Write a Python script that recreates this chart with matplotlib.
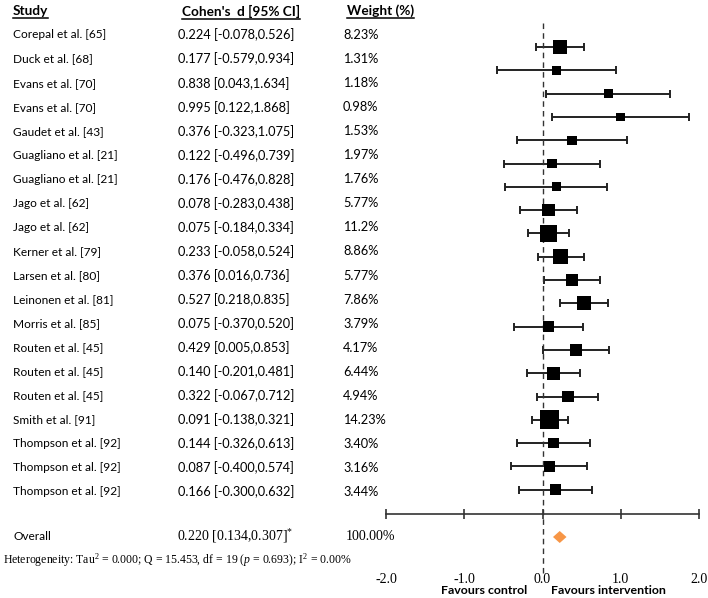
import numpy as np
import matplotlib
matplotlib.use("Agg")
import matplotlib.pyplot as plt
from matplotlib.transforms import blended_transform_factory

# dati
studi = ["Corepal et al. [65]", "Duck et al. [68]", "Evans et al. [70]", "Evans et al. [70]",
         "Gaudet et al. [43]", "Guagliano et al. [21]", "Guagliano et al. [21]", "Jago et al. [62]",
         "Jago et al. [62]", "Kerner et al. [79]", "Larsen et al. [80]", "Leinonen et al. [81]",
         "Morris et al. [85]", "Routen et al. [45]", "Routen et al. [45]", "Routen et al. [45]",
         "Smith et al. [91]", "Thompson et al. [92]", "Thompson et al. [92]", "Thompson et al. [92]"]
d = [0.224, 0.177, 0.838, 0.995, 0.376, 0.122, 0.176, 0.078, 0.075, 0.233,
     0.376, 0.527, 0.075, 0.429, 0.140, 0.322, 0.091, 0.144, 0.087, 0.166]
ci_low = [-0.078, -0.579, 0.043, 0.122, -0.323, -0.496, -0.476, -0.283, -0.184, -0.058,
          0.016, 0.218, -0.370, 0.005, -0.201, -0.067, -0.138, -0.326, -0.400, -0.300]
ci_high = [0.526, 0.934, 1.634, 1.868, 1.075, 0.739, 0.828, 0.438, 0.334, 0.524,
           0.736, 0.835, 0.520, 0.853, 0.481, 0.712, 0.321, 0.613, 0.574, 0.632]
pesi = ["8.23%", "1.31%", "1.18%", "0.98%", "1.53%", "1.97%", "1.76%", "5.77%", "11.2%", "8.86%",
        "5.77%", "7.86%", "3.79%", "4.17%", "6.44%", "4.94%", "14.23%", "3.40%", "3.16%", "3.44%"]
overall_d, overall_low, overall_high = 0.220, 0.134, 0.307
xticks = [-2.0, -1.0, 0.0, 1.0, 2.0]

plt.rcParams['mathtext.fontset'] = 'custom'
plt.rcParams['mathtext.rm'] = 'Liberation Serif'
plt.rcParams['mathtext.it'] = 'Liberation Serif:italic'

W, H = 708, 598
fig = plt.figure(figsize=(W / 100, H / 100), dpi=100)
ax = fig.add_axes([386 / W, 0, (699 - 386) / W, 1])

# asse y in pixel (0 in alto)
ax.set_ylim(H, 0)
ax.set_xlim(-2.0, 2.0)
n = len(studi)
riga_box = 47 + 23.3 * np.arange(n)
riga_testo = 35 + 24.05 * np.arange(n)
d = np.array(d)
lo = np.array(ci_low)
hi = np.array(ci_high)
w = np.array([float(p.strip('%')) for p in pesi])

ax.errorbar(d, riga_box, xerr=[d - lo, hi - d], fmt='none', ecolor='#222222',
            elinewidth=1.4, capsize=3, capthick=1.4, zorder=2)
lato_px = 8 + 0.774 * w
ax.scatter(d, riga_box, marker='s', s=(lato_px * 0.72) ** 2, color='black', zorder=3, linewidths=0)

y_overall = 536
y_asse = 514
ax.fill([overall_low, overall_d, overall_high, overall_d],
        [y_overall + 1, y_overall - 5, y_overall + 1, y_overall + 7],
        color='#F79646', zorder=3, lw=0)

ax.vlines(0, 23, 574, colors='#333333', linestyles=(0, (4, 3)), lw=1)

for s in ['top', 'left', 'right']:
    ax.spines[s].set_visible(False)
ax.spines['bottom'].set_position(('data', y_asse))
ax.spines['bottom'].set_color('#333333')
ax.spines['bottom'].set_linewidth(1.2)
ax.set_yticks([])
ax.set_xticks(xticks)
ax.set_xticklabels(["%.1f" % t for t in xticks], fontfamily='Liberation Serif', fontsize=10)
ax.tick_params(axis='x', direction='inout', length=7, width=1.2, color='#333333', pad=39)
ax.patch.set_visible(False)

tr = blended_transform_factory(fig.transFigure, ax.transData)
font = 'Lato'
for i in range(n):
    ax.text(13 / W, riga_testo[i], studi[i], transform=tr, fontsize=8.6, family=font, va='center')
    ax.text(178 / W, riga_testo[i], "%.3f [%.3f,%.3f]" % (d[i], lo[i], hi[i]), transform=tr,
            fontsize=9.2, family=font, va='center')
    ax.text(343 / W, riga_testo[i], pesi[i], transform=tr, fontsize=9.2, family=font, va='center')

intest = []
for x, t in [(13, "Study"), (182, "Cohen's  d [95% CI]"), (347, "Weight (%)")]:
    intest.append(ax.text(x / W, 11, t, transform=tr, fontsize=9.8, family=font,
                          fontweight='bold', va='center'))

ax.text(13 / W, y_overall, "Overall", transform=tr, fontsize=8.6, family=font, va='center')
ax.text(177 / W, y_overall, "%.3f [%.3f,%.3f]$^{*}$" % (overall_d, overall_low, overall_high),
        transform=tr, fontsize=10, family='Liberation Serif', va='center')
ax.text(346 / W, y_overall, "100.00%", transform=tr, fontsize=10,
        family='Liberation Serif', va='center')
ax.text(3 / W, 560,
        "Heterogeneity: Tau$^2$ = 0.000; Q = 15.453, df = 19 ($\\mathit{p}$ = 0.693); I$^2$ = 0.00%",
        transform=tr, fontsize=8.5, family='Liberation Serif', va='center')

ax.text(-0.2, 591, "Favours control", fontsize=8.9, family=font, fontweight='bold',
        ha='right', va='center')
ax.text(0.11, 591, "Favours intervention", fontsize=8.9, family=font, fontweight='bold',
        ha='left', va='center')

# sottolineatura delle intestazioni
fig.canvas.draw()
r = fig.canvas.get_renderer()
for t in intest:
    bb = t.get_window_extent(r)
    y = bb.y0 - 1
    fig.add_artist(plt.Line2D([bb.x0 / W, bb.x1 / W], [y / H, y / H], color='black', lw=1.1))

fig.savefig("out.png", dpi=100)
